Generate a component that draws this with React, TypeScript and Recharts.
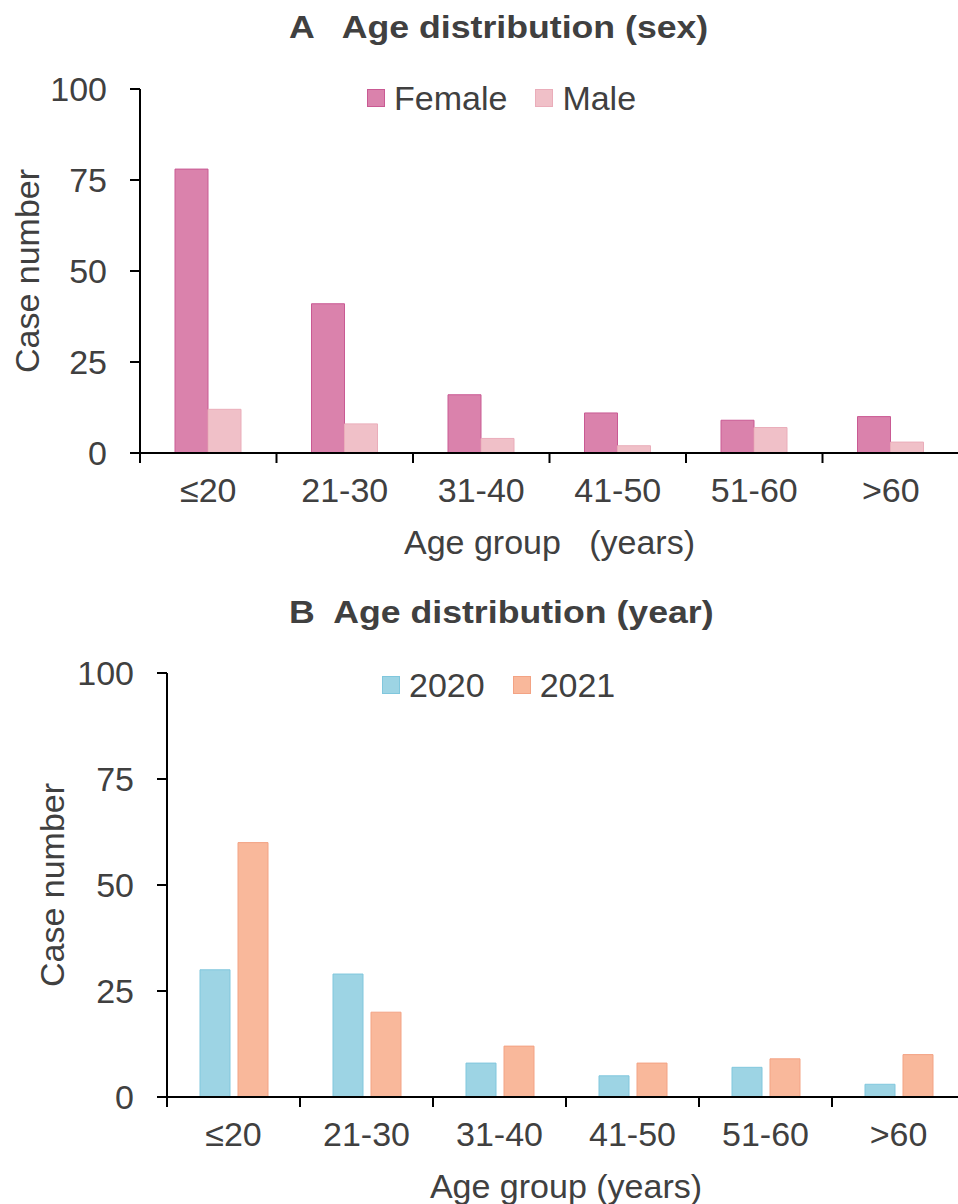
import { BarChart, Bar, XAxis, YAxis, Legend, Label } from 'recharts';

const ageGroups = ['≤20', '21-30', '31-40', '41-50', '51-60', '>60'];
const femaleCases = [78, 41, 16, 11, 9, 10];
const maleCases = [12, 8, 4, 2, 7, 3];
const cases2020 = [30, 29, 8, 5, 7, 3];
const cases2021 = [60, 20, 12, 8, 9, 10];
const yTicks = [0, 25, 50, 75, 100];

const sexData = ageGroups.map((group, i) => ({ group, female: femaleCases[i], male: maleCases[i] }));
const yearData = ageGroups.map((group, i) => ({ group, y2020: cases2020[i], y2021: cases2021[i] }));

const FONT = "'Liberation Sans', Arial, sans-serif";
const TEXT = '#404040';

// x ticks sit on the category boundaries, labels in the middle
function makeTick(step: number, count: number) {
  return (props: any) => {
    const { x, y, payload, index } = props;
    const left = x - step / 2;
    return (
      <g>
        <line x1={left} x2={left} y1={y} y2={y + 10} stroke="#000" strokeWidth={2} />
        {index === count - 1 && (
          <line x1={x + step / 2} x2={x + step / 2} y1={y} y2={y + 10} stroke="#000" strokeWidth={2} />
        )}
        <text x={x} y={y + 49} textAnchor="middle" fontSize={34} fill={TEXT} fontFamily={FONT}>
          {payload.value}
        </text>
      </g>
    );
  };
}

function LegendBox(props: any) {
  const { payload } = props;
  return (
    <div style={{ display: 'flex', alignItems: 'center', gap: 28, fontFamily: FONT }}>
      {(payload || []).map((entry: any) => (
        <div key={entry.value} style={{ display: 'flex', alignItems: 'center', gap: 9 }}>
          <span
            style={{
              width: 18,
              height: 18,
              boxSizing: 'border-box',
              background: entry.color,
              border: `1px solid ${entry.payload?.stroke ?? entry.color}`,
              display: 'inline-block',
            }}
          />
          <span style={{ fontSize: 34, lineHeight: 1, color: TEXT, whiteSpace: 'nowrap' }}>{entry.value}</span>
        </div>
      ))}
    </div>
  );
}

const titleStyle = (top: number): React.CSSProperties => ({
  position: 'absolute',
  top,
  left: 289,
  fontFamily: FONT,
  fontWeight: 'bold',
  fontSize: 31,
  lineHeight: 1,
  color: TEXT,
  whiteSpace: 'pre',
  transform: 'scaleX(1.15)',
  transformOrigin: 'left top',
});

const yTickStyle = { fontSize: 34, fill: TEXT, fontFamily: FONT };
const axisStroke = { stroke: '#000', strokeWidth: 2 };

export default function App() {
  return (
    <div
      style={{
        position: 'absolute',
        left: 0,
        top: 0,
        width: 958,
        height: 1204,
        overflow: 'hidden',
        background: '#fff',
      }}
    >
      <div style={titleStyle(12)}>A   Age distribution (sex)</div>
      <div style={{ position: 'absolute', left: 0, top: 0 }}>
        <BarChart
          width={960}
          height={570}
          data={sexData}
          margin={{ top: 89, right: 1, bottom: 0, left: 0 }}
          barGap={0}
        >
          <XAxis
            dataKey="group"
            height={117}
            axisLine={axisStroke}
            tickLine={false}
            tickSize={0}
            tickMargin={0}
            interval={0}
            tick={makeTick(136.5, ageGroups.length)}
          >
            <Label
              value={'Age group\u00A0\u00A0\u00A0(years)'}
              position="insideBottom"
              offset={16}
              fontSize={34}
              fill={TEXT}
              fontFamily={FONT}
            />
          </XAxis>
          <YAxis
            width={140}
            domain={[0, 100]}
            ticks={yTicks}
            tickSize={10}
            tickMargin={23}
            axisLine={axisStroke}
            tickLine={axisStroke}
            tick={yTickStyle}
          >
            <Label
              value="Case number"
              angle={-90}
              position="insideLeft"
              offset={27}
              textAnchor="middle"
              fontSize={34}
              fill={TEXT}
              fontFamily={FONT}
            />
          </YAxis>
          <Legend
            layout="horizontal"
            verticalAlign="middle"
            align="center"
            content={<LegendBox />}
            wrapperStyle={{ top: 81, left: 367, width: 'auto' }}
          />
          <Bar dataKey="female" name="Female" fill="#DA82AC" stroke="#C95A93" strokeWidth={1} barSize={33} isAnimationActive={false} />
          <Bar dataKey="male" name="Male" fill="#F0C0C8" stroke="#EAADBA" strokeWidth={1} barSize={33} isAnimationActive={false} />
        </BarChart>
      </div>

      <div style={titleStyle(597)}>B  Age distribution (year)</div>
      <div style={{ position: 'absolute', left: 0, top: 580 }}>
        <BarChart
          width={966}
          height={624}
          data={yearData}
          margin={{ top: 93, right: 1, bottom: 0, left: 0 }}
          barGap={8}
        >
          <XAxis
            dataKey="group"
            height={107}
            axisLine={axisStroke}
            tickLine={false}
            tickSize={0}
            tickMargin={0}
            interval={0}
            tick={makeTick(133, ageGroups.length)}
          >
            <Label
              value="Age group (years)"
              position="insideBottom"
              offset={6}
              fontSize={34}
              fill={TEXT}
              fontFamily={FONT}
            />
          </XAxis>
          <YAxis
            width={167}
            domain={[0, 100]}
            ticks={yTicks}
            tickSize={10}
            tickMargin={23}
            axisLine={axisStroke}
            tickLine={axisStroke}
            tick={yTickStyle}
          >
            <Label
              value="Case number"
              angle={-90}
              position="insideLeft"
              offset={52}
              textAnchor="middle"
              fontSize={34}
              fill={TEXT}
              fontFamily={FONT}
            />
          </YAxis>
          <Legend
            layout="horizontal"
            verticalAlign="middle"
            align="center"
            content={<LegendBox />}
            wrapperStyle={{ top: 88, left: 382, width: 'auto' }}
          />
          <Bar dataKey="y2020" name="2020" fill="#9DD4E4" stroke="#80C7DD" strokeWidth={1} barSize={30} isAnimationActive={false} />
          <Bar dataKey="y2021" name="2021" fill="#F9B89B" stroke="#F3A384" strokeWidth={1} barSize={30} isAnimationActive={false} />
        </BarChart>
      </div>
    </div>
  );
}
